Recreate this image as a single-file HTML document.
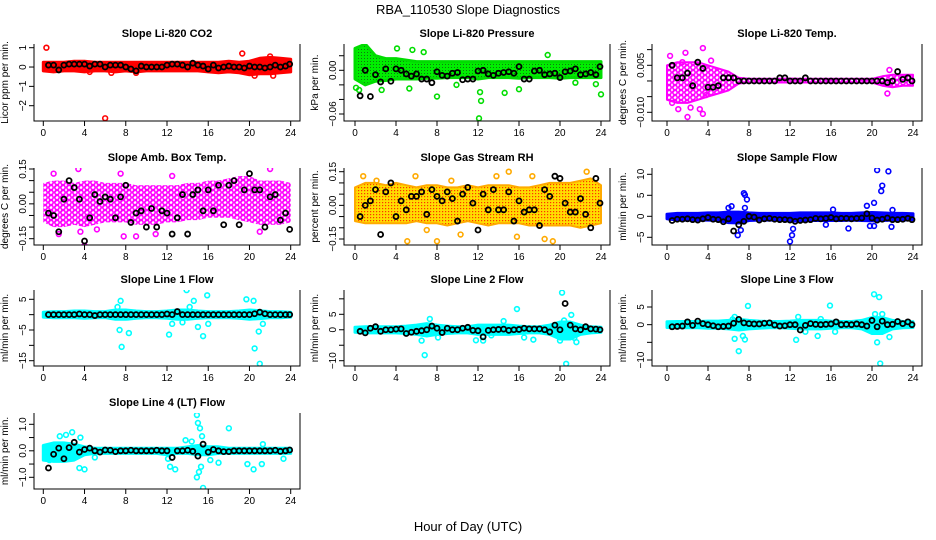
<!DOCTYPE html>
<html><head><meta charset="utf-8"><style>
html,body{margin:0;padding:0;background:#fff;}
svg{display:block;font-family:"Liberation Sans",Arial,sans-serif;}
</style></head><body>
<svg id="chart" width="936" height="540" viewBox="0 0 936 540">
<defs>
<pattern id="pGreen" width="3" height="3" patternUnits="userSpaceOnUse"><rect width="3" height="3" fill="#00ee00"/><rect x="1" y="1" width="1" height="1" fill="#117711"/></pattern>
<pattern id="pYellow" width="3" height="3" patternUnits="userSpaceOnUse"><rect width="3" height="3" fill="#ffdd00"/><rect x="1" y="1" width="1.2" height="1.2" fill="#ff3300"/></pattern>
<pattern id="pMagenta" width="6" height="5" patternUnits="userSpaceOnUse"><rect width="6" height="5" fill="#fff"/><circle cx="3" cy="2.5" r="2.2" fill="none" stroke="#ff00ff" stroke-width="1.6"/><circle cx="0" cy="0" r="2.2" fill="none" stroke="#ff00ff" stroke-width="1.4"/></pattern>
</defs>
<text x="468" y="14" text-anchor="middle" font-size="13">RBA_110530  Slope Diagnostics</text>
<text x="468" y="531" text-anchor="middle" font-size="13">Hour of Day (UTC)</text>
</svg>
<script>
const meanHours=[0.5,1,1.5,2,2.5,3,3.5,4,4.5,5,5.5,6,6.5,7,7.5,8,8.5,9,9.5,10,10.5,11,11.5,12,12.5,13,13.5,14,14.5,15,15.5,16,16.5,17,17.5,18,18.5,19,19.5,20,20.5,21,21.5,22,22.5,23,23.5,23.9];
const bandHours=[0,1,2,3,4,5,6,7,8,9,10,11,12,13,14,15,16,17,18,19,20,21,22,23,24];
const xTicks=[0,4,8,12,16,20,24];

const co2Means=[0.1,0.1,-0.15,0.1,0.15,0.15,0.15,0.15,0.05,0.15,0.15,0,0.1,0.1,0.1,0,-0.1,-0.2,0.05,0,0,0,0,0.1,0.15,0.15,0.1,0,0.2,0.1,0.05,-0.1,0.1,-0.05,0,0.05,0,0,-0.05,0.05,0,0,-0.05,0,0.1,0,0.05,0.15];
const co2Lo=[-0.2,-0.25,-0.2,-0.2,-0.25,-0.2,-0.2,-0.25,-0.2,-0.25,-0.2,-0.2,-0.2,-0.2,-0.2,-0.2,-0.25,-0.3,-0.25,-0.3,-0.4,-0.35,-0.35,-0.3,-0.25];
const co2Hi=[0.25,0.25,0.25,0.3,0.3,0.25,0.25,0.25,0.25,0.25,0.25,0.25,0.25,0.25,0.25,0.25,0.25,0.25,0.3,0.25,0.3,0.45,0.5,0.45,0.4];
const co2Out=[[0.3,1],[6,-2.65],[19.3,0.7],[22.3,-0.45],[22,0.55],[20.5,-0.45],[4.5,-0.25],[6.6,-0.3],[9,-0.3]];
const co2Ticks=[1,0,-1,-2];const co2Labels=["1","0","\u22121","\u22122"];

const presMeans=[-0.035,0,-0.036,-0.006,-0.016,0.002,-0.015,0.002,0,-0.005,-0.008,-0.005,-0.012,-0.012,-0.017,-0.002,-0.007,-0.008,-0.004,-0.003,-0.013,-0.012,-0.012,-0.001,0,-0.005,-0.007,-0.004,-0.003,-0.002,-0.004,0.005,-0.012,-0.012,-0.001,0,-0.006,-0.005,-0.004,-0.01,-0.002,-0.001,0.002,-0.006,-0.005,-0.003,-0.006,0.005];
const presLo=[-0.012,-0.02,-0.015,-0.014,-0.012,-0.012,-0.012,-0.011,-0.011,-0.01,-0.01,-0.01,-0.012,-0.01,-0.01,-0.01,-0.011,-0.01,-0.01,-0.01,-0.011,-0.01,-0.01,-0.01,-0.01];
const presHi=[0.03,0.036,0.02,0.016,0.016,0.014,0.012,0.012,0.012,0.012,0.012,0.012,0.012,0.012,0.012,0.012,0.012,0.012,0.012,0.012,0.012,0.012,0.012,0.012,0.012];
const presOut=[[0.1,-0.024],[0.4,-0.027],[4.1,0.03],[5.6,0.028],[6.7,0.025],[8,-0.036],[9.9,-0.02],[12.1,-0.066],[12.2,-0.03],[12.3,-0.042],[14.6,-0.031],[16,-0.026],[18.8,0.021],[21.5,-0.017],[23.5,-0.019],[24,-0.033],[2.6,-0.027],[5.3,-0.025]];
const presTicks=[0.02,0,-0.02,-0.04,-0.06];const presLabels=["","0.00","","","\u22120.06"];

const tempMeans=[0.005,0.001,0.001,0.0025,-0.0015,0.006,0.004,-0.002,-0.002,-0.0015,0.001,0.001,0.001,0,0,0,0,0,0,0,0,0.001,0.001,0,0,0,0.001,0,0,0,0,0,0,0,0,0,0,0,0,0,0,0,-0.0005,0,0.003,0.0005,0.001,0];
const tempLo=[-0.006,-0.007,-0.007,-0.006,-0.005,-0.004,-0.003,-0.0008,-0.0005,-0.0005,-0.0005,-0.0005,-0.0005,-0.0005,-0.0005,-0.0005,-0.0005,-0.0005,-0.0005,-0.0005,-0.0005,-0.0015,-0.002,-0.0015,-0.0015];
const tempHi=[0.005,0.006,0.006,0.006,0.005,0.004,0.003,0.001,0.0007,0.0007,0.0007,0.0007,0.0008,0.0007,0.0007,0.0007,0.0007,0.0007,0.0007,0.0007,0.0007,0.0015,0.002,0.002,0.002];
const tempOut=[[0.3,0.008],[1.8,0.009],[3.5,0.0105],[1.1,-0.009],[2,-0.0115],[3.2,-0.009],[3.5,-0.0105],[0.5,-0.007],[2.3,-0.0085],[21.5,-0.004],[21.7,0.0035],[4.3,0.0065],[1.5,0.006],[3.8,-0.0045]];
const tempTicks=[0.01,0.005,0,-0.005,-0.01];const tempLabels=["","0.005","","","\u22120.010"];

const boxMeans=[-0.04,-0.05,-0.12,0.02,0.1,0.07,0.02,-0.16,-0.06,0.04,0.01,0.03,0.02,-0.06,0.03,0.08,-0.08,-0.04,-0.03,-0.1,-0.02,-0.1,-0.03,-0.04,-0.13,-0.06,0.04,-0.13,0.04,0.06,-0.03,0.06,-0.03,0.08,-0.09,0.08,0.1,-0.09,0.06,0.13,0.06,0.06,-0.1,0.03,0.04,-0.07,-0.04,-0.11];
const boxLo=[-0.08,-0.1,-0.1,-0.09,-0.1,-0.09,-0.08,-0.08,-0.08,-0.09,-0.09,-0.09,-0.08,-0.08,-0.07,-0.07,-0.06,-0.06,-0.06,-0.07,-0.08,-0.09,-0.09,-0.09,-0.08];
const boxHi=[0.09,0.1,0.1,0.09,0.1,0.1,0.09,0.09,0.09,0.08,0.08,0.08,0.08,0.08,0.09,0.09,0.1,0.1,0.11,0.12,0.12,0.1,0.1,0.1,0.09];
const boxOut=[[1,0.13],[3.4,0.15],[4,-0.18],[5.2,-0.11],[7.8,-0.14],[9,-0.14],[10.9,-0.13],[21,-0.12],[22,0.15],[1.5,-0.13],[3.6,-0.12],[7.5,0.13],[12.5,0.12]];
const boxTicks=[0.15,0.1,0.05,0,-0.05,-0.1,-0.15];const boxLabels=["0.15","","","0.00","","","\u22120.15"];

const rhMeans=[-0.05,0,0.02,0.07,-0.13,0.06,0.1,-0.05,0.02,-0.02,0.04,0.04,0.06,-0.04,0.07,0.04,0.02,0.06,0.03,-0.07,0.05,0.08,0.01,-0.11,0.05,-0.02,0.07,-0.02,-0.02,0.06,-0.07,0.02,-0.03,-0.02,-0.02,-0.09,0.07,0.04,0.13,0.12,0.01,-0.03,-0.03,0.03,-0.04,-0.1,0.12,0.01];
const rhLo=[-0.07,-0.08,-0.08,-0.08,-0.08,-0.08,-0.07,-0.08,-0.08,-0.09,-0.08,-0.07,-0.08,-0.09,-0.08,-0.08,-0.08,-0.09,-0.09,-0.09,-0.09,-0.09,-0.1,-0.09,-0.08];
const rhHi=[0.08,0.1,0.1,0.09,0.1,0.09,0.08,0.09,0.09,0.08,0.08,0.09,0.08,0.09,0.09,0.09,0.08,0.08,0.09,0.1,0.1,0.1,0.11,0.12,0.09];
const rhOut=[[5.1,-0.16],[8,-0.16],[15.8,-0.14],[18.5,-0.15],[19.3,-0.16],[15,0.15],[22.6,0.15],[0.8,0.13],[5.9,0.13],[13.8,0.13],[10.3,-0.13],[17.3,0.13],[7,-0.11],[2.1,0.11],[9.4,0.11]];
const rhTicks=[0.15,0.1,0.05,0,-0.05,-0.1,-0.15];const rhLabels=["0.15","","","0.00","","","\u22120.15"];

const sfMeans=[-1,-0.7,-0.7,-0.6,-0.8,-0.9,-0.6,-0.3,-0.7,-0.8,-1.3,-0.6,-3.5,-2,-1.2,0,-0.2,-0.9,-0.6,-0.5,-0.7,-0.8,-0.8,-0.9,-1.2,-1,-0.9,-0.8,-0.5,-0.6,-0.5,-0.3,-0.6,-0.5,-0.5,-0.6,-0.5,-0.4,0.6,-0.4,-0.9,-0.7,-0.4,-0.8,-0.8,-0.7,-0.5,-0.8];
const sfLo=[-0.6,-0.9,-0.9,-0.9,-0.9,-1,-1.5,-1.6,-1,-0.9,-0.9,-0.9,-1.2,-1.1,-1,-1,-1,-1,-0.9,-1,-1.1,-1,-0.9,-0.9,-0.8];
const sfHi=[0.5,0.7,0.7,0.7,0.8,0.8,1,1,0.8,0.7,0.7,0.7,0.7,0.8,0.8,0.8,0.8,0.7,0.7,0.8,0.9,0.8,0.7,0.7,0.6];
const sfOut=[[7.5,5.5],[7.8,4],[7.6,2],[6.9,-4.5],[7.2,-3.3],[12,-6],[12.2,-4.5],[12.3,-3],[20.5,11],[21.6,10.7],[21,7.3],[20.9,6],[20.2,3.2],[19.8,-2.3],[21.9,-2.5],[17.7,-2.9],[16.2,1.6],[22,1.5],[6,2],[19.5,2.5],[15.5,-2],[20.2,-2.3],[6.3,2.4],[7.6,5.1]];
const sfTicks=[10,5,0,-5];const sfLabels=["10","5","0","\u22125"];

const l1Means=[0,0,0,0,0,0,0.2,0,0,-0.3,0,0,0,0,0,0,0,0,0,0,0,0,0,0.2,0,1,0,0,0,0,0,0,0,0,0,0,0,0,0,0,0.3,0.8,0.3,0,0,0,0,0];
const l1Lo=[-0.8,-1,-1,-1,-1.2,-1,-1,-1.5,-1.5,-1.2,-1,-1,-1.2,-1.5,-1.5,-1.2,-1,-1,-1,-1.2,-1.5,-1.3,-1,-1,-0.8];
const l1Hi=[0.8,1,1,1.2,1.2,1,1,1.5,1.5,1.2,1,1,1.2,1.5,1.5,1.2,1,1,1,1.2,1.5,1.3,1,1,0.8];
const l1Out=[[7.5,4.5],[7.2,2.5],[7.4,-5],[7.6,-10.5],[8.3,-6],[12.2,-6.5],[13.9,8],[14.6,4.5],[15.5,-7],[15.9,6.3],[16,-3],[19.7,5],[20.4,4.5],[20.5,-11],[20.9,-5.5],[21,-16],[15,-4],[13.5,-2.5],[12.5,-3],[14.2,2.5],[21.3,-3]];
const l1Ticks=[5,0,-5,-10,-15];const l1Labels=["5","","\u22125","","\u221215"];

const l2Means=[-0.5,-1,0.5,1,-0.5,0,0,0.2,0.3,-1.2,-0.8,-0.5,-0.3,0,1.2,0.5,-0.9,0.5,0,0,0.5,0.8,-0.2,-0.3,-2.3,-0.2,0,0.1,0.2,-0.2,0,0.1,0.5,0.3,0.3,0.3,0,-0.7,1.5,0,8.5,1.5,0.3,0,1,0.3,0.2,0];
const l2Lo=[-0.8,-1,-1,-1,-1,-1.2,-1.5,-2,-1.5,-1.2,-1,-1,-1.5,-1.5,-1.5,-1.5,-1.2,-1,-1,-1.5,-3,-3,-1.5,-1,-0.8];
const l2Hi=[0.8,1,1,1,1,1.2,1.5,2,1.5,1.2,1,1,1.5,1.5,1.5,1.5,1.2,1,1,1.5,2.5,2.5,1.5,1,0.8];
const l2Out=[[6.8,-8.2],[6.5,-3.5],[7.3,3.5],[15.8,6.7],[20.2,12],[20.6,-11],[21.1,4.8],[21.6,-4],[17.4,-3.2],[11.8,-3.4],[12.5,-3.5],[14.5,2.8],[16.5,-2.5],[20,-3.5],[20.4,3],[8.1,-2.5],[13.3,-1.8],[21.4,-2.6]];
const l2Ticks=[10,5,0,-5,-10];const l2Labels=["","5","0","","\u221210"];

const l3Means=[-0.6,-0.5,-0.4,0.8,-0.2,1,0.3,0,-0.3,-0.6,-0.5,-0.4,0.4,1.5,0.5,0.3,0.2,0.2,0.4,0.5,-0.1,-0.4,-0.3,0,0,-1.5,-0.2,0.3,0.1,0,0.1,0.2,0.8,0,0.1,0,0.2,0,-0.4,1.2,-0.6,1,0,0.1,0.9,0.3,0.8,0];
const l3Lo=[-0.8,-0.9,-0.9,-0.9,-1,-1,-1.2,-1.5,-1.2,-1,-0.9,-0.9,-1,-1.2,-1.2,-1.2,-1,-0.9,-0.9,-1.2,-2.5,-2.5,-1.2,-0.9,-0.8];
const l3Hi=[0.8,0.9,0.9,0.9,1,1,1.2,1.5,1.2,1,0.9,0.9,1,1.2,1.2,1.2,1,0.9,0.9,1.2,2,2,1.2,0.9,0.8];
const l3Out=[[6.6,2.2],[6.6,-4],[7,-7.5],[7.4,-3.2],[7.6,-4.2],[7.9,5.3],[12.6,-4.3],[15.9,5.4],[12.8,2.2],[14.7,-3.2],[16.4,-2],[20.2,8.6],[20.3,3],[21,3],[20.5,-5],[20.8,-11],[21.7,-3.5],[13.5,-2],[20.7,7.8],[6.4,1.5],[15,1.6]];
const l3Ticks=[5,0,-5,-10];const l3Labels=["5","0","","\u221210"];

const l4Means=[-0.65,-0.13,0.1,-0.3,0.12,0.32,-0.05,0.05,0.1,0,-0.05,0.03,0.02,-0.03,0,0,0.02,0,0,0,0,0.02,0,0,-0.25,0,0,0.02,-0.02,-0.2,0.25,-0.05,0.05,0,-0.03,-0.03,0,0,0,0,0,0,0,0,0.02,-0.02,0,0.03];
const l4Lo=[-0.35,-0.4,-0.4,-0.35,-0.15,-0.1,-0.1,-0.1,-0.1,-0.1,-0.1,-0.1,-0.15,-0.1,-0.1,-0.15,-0.15,-0.1,-0.1,-0.1,-0.1,-0.1,-0.1,-0.1,-0.1];
const l4Hi=[0.2,0.3,0.3,0.25,0.15,0.1,0.1,0.1,0.1,0.1,0.1,0.1,0.1,0.1,0.15,0.2,0.15,0.15,0.1,0.1,0.1,0.1,0.1,0.1,0.1];
const l4Out=[[1.6,0.55],[2.2,0.6],[2.8,0.7],[3.6,0.5],[3.5,-0.65],[4,-0.7],[14.9,1.35],[15,1.05],[15.2,0.85],[15.4,0.55],[14.9,-1],[15.1,-0.8],[15.5,-1.4],[15.3,-0.6],[18,0.85],[12.1,-0.3],[12.3,-0.6],[12.8,-0.7],[13.8,0.4],[14.4,0.35],[19.8,-0.5],[20.4,-0.7],[21.2,-0.5],[21.3,0.25],[23.3,-0.3],[17,-0.45],[16.2,-0.35],[0.6,-0.35],[5,-0.25]];
const l4Ticks=[1,0.5,0,-0.5,-1];const l4Labels=["1.0","","0.0","","\u22121.0"];

const NS="http://www.w3.org/2000/svg";
const svg=document.getElementById('chart');
function mk(tag,attrs,parent){const e=document.createElementNS(NS,tag);for(const k in attrs)e.setAttribute(k,attrs[k]);(parent||svg).appendChild(e);return e;}

const colL=[34,344,652], colR=[300,610,922], colX0=[43.3,355,667], colX24=[290.7,601,913];
const rowT=[44,168,290,413], rowB=[121,245,366,489];

const panels=[
 {key:'co2',title:'Slope Li-820 CO2',ylab:'Licor ppm per min.',r:0,c:0,v0:1,p0:47.7,v1:-2,p1:105.7,means:co2Means,lo:co2Lo,hi:co2Hi,out:co2Out,ticks:co2Ticks,labels:co2Labels,color:'#ff0000',fill:'#ff0000',sw:3},
 {key:'pressure',title:'Slope Li-820 Pressure',ylab:'kPa per min.',r:0,c:1,v0:0,p0:70.3,v1:-0.06,p1:114,means:presMeans,lo:presLo,hi:presHi,out:presOut,ticks:presTicks,labels:presLabels,color:'#00dd00',fill:'url(#pGreen)',sw:3},
 {key:'temp',title:'Slope Li-820 Temp.',ylab:'degrees C per min.',r:0,c:2,v0:0.005,p0:65.3,v1:-0.01,p1:112.3,means:tempMeans,lo:tempLo,hi:tempHi,out:tempOut,ticks:tempTicks,labels:tempLabels,color:'#ff00ff',fill:'url(#pMagenta)',sw:2},
 {key:'box-temp',title:'Slope Amb. Box Temp.',ylab:'degrees C per min.',r:1,c:0,v0:0.15,p0:169,v1:-0.15,p1:238.7,means:boxMeans,lo:boxLo,hi:boxHi,out:boxOut,ticks:boxTicks,labels:boxLabels,color:'#ff00ff',fill:'url(#pMagenta)',sw:0},
 {key:'rh',title:'Slope Gas Stream RH',ylab:'percent per min.',r:1,c:1,v0:0.15,p0:171.7,v1:-0.15,p1:239,means:rhMeans,lo:rhLo,hi:rhHi,out:rhOut,ticks:rhTicks,labels:rhLabels,color:'#ffaa00',fill:'url(#pYellow)',sw:2},
 {key:'sample-flow',title:'Slope Sample Flow',ylab:'ml/min per min.',r:1,c:2,v0:10,p0:174.3,v1:-5,p1:237.3,means:sfMeans,lo:sfLo,hi:sfHi,out:sfOut,ticks:sfTicks,labels:sfLabels,color:'#0000ff',fill:'#0000ff',sw:3},
 {key:'line1',title:'Slope Line 1 Flow',ylab:'ml/min per min.',r:2,c:0,v0:5,p0:299.3,v1:-15,p1:360.7,means:l1Means,lo:l1Lo,hi:l1Hi,out:l1Out,ticks:l1Ticks,labels:l1Labels,color:'#00ffff',fill:'#00ffff',sw:3},
 {key:'line2',title:'Slope Line 2 Flow',ylab:'ml/min per min.',r:2,c:1,v0:5,p0:314.3,v1:-10,p1:360.7,means:l2Means,lo:l2Lo,hi:l2Hi,out:l2Out,ticks:l2Ticks,labels:l2Labels,color:'#00ffff',fill:'#00ffff',sw:3},
 {key:'line3',title:'Slope Line 3 Flow',ylab:'ml/min per min.',r:2,c:2,v0:5,p0:307,v1:-10,p1:360,means:l3Means,lo:l3Lo,hi:l3Hi,out:l3Out,ticks:l3Ticks,labels:l3Labels,color:'#00ffff',fill:'#00ffff',sw:3},
 {key:'line4',title:'Slope Line 4 (LT) Flow',ylab:'ml/min per min.',r:3,c:0,v0:1,p0:424.3,v1:-1,p1:477.3,means:l4Means,lo:l4Lo,hi:l4Hi,out:l4Out,ticks:l4Ticks,labels:l4Labels,color:'#00ffff',fill:'#00ffff',sw:3}
];

panels.forEach(p=>{
  const L=colL[p.c],R=colR[p.c],T=rowT[p.r],B=rowB[p.r];
  const xs=h=>colX0[p.c]+(colX24[p.c]-colX0[p.c])*h/24;
  const ys=v=>p.p0+(v-p.v0)*(p.p1-p.p0)/(p.v1-p.v0);
  const g=mk('g',{});
  
  
  const cp=mk('clipPath',{id:'clip-'+p.key},g);mk('rect',{x:L,y:T,width:R-L,height:B-T},cp);
  const t=mk('text',{x:(L+R)/2,y:T-7,'text-anchor':'middle','font-size':11,'font-weight':'bold'},g);t.textContent=p.title;
  
  
  const data=mk('g',{'clip-path':'url(#clip-'+p.key+')'},g);
  let pts=[];
  bandHours.forEach((h,i)=>pts.push(xs(h).toFixed(1)+','+ys(p.hi[i]).toFixed(1)));
  for(let i=bandHours.length-1;i>=0;i--)pts.push(xs(bandHours[i]).toFixed(1)+','+ys(p.lo[i]).toFixed(1));
  const band=mk('polygon',{points:pts.join(' '),fill:p.fill,stroke:p.sw?p.color:'none','stroke-width':p.sw,'stroke-linejoin':'round'},data);
  
  
  p.out.forEach(o=>{
    const c=mk('circle',{cx:xs(o[0]),cy:ys(o[1]),r:2.4,fill:'none',stroke:p.color,'stroke-width':1.6},data);
    
    
  });
  p.means.forEach((v,i)=>{
    const c=mk('circle',{cx:xs(meanHours[i]),cy:ys(v),r:2.5,fill:'none',stroke:'#000','stroke-width':1.8},data);
    
    
  });
  mk('path',{d:`M${L},${T}V${B}H${R}V${T}`,fill:'none',stroke:'#000','stroke-width':1},g);
  const xa=mk('g',{},g);
  
  
  xTicks.forEach(h=>{
    mk('line',{x1:xs(h),x2:xs(h),y1:B,y2:B+5,stroke:'#000'},xa);
    const tl=mk('text',{x:xs(h),y:B+15,'text-anchor':'middle','font-size':10},xa);tl.textContent=h;
  });
  const ya=mk('g',{},g);
  
  
  p.ticks.forEach((v,i)=>{
    const y=ys(v);
    mk('line',{x1:L,x2:L-5,y1:y,y2:y,stroke:'#000'},ya);
    if(p.labels[i]){const tl=mk('text',{x:L-8,y:y,'text-anchor':'middle','font-size':10,transform:`rotate(-90 ${L-8} ${y})`},ya);tl.textContent=p.labels[i];}
  });
  const yl=mk('text',{x:L-26,y:(T+B)/2,'text-anchor':'middle','font-size':10,transform:`rotate(-90 ${L-26} ${(T+B)/2})`},g);yl.textContent=p.ylab;
  
  
});
</script>
</body></html>
